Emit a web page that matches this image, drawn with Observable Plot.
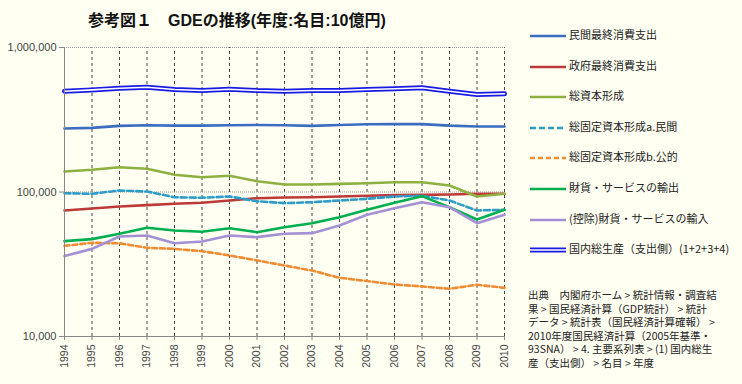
<!DOCTYPE html>
<html><head><meta charset="utf-8">
<script src="https://cdn.jsdelivr.net/npm/d3@7"></script>
<script src="https://cdn.jsdelivr.net/npm/@observablehq/plot@0.6"></script>
<style>
body{margin:0;background:#fffff2;}
#wrap{position:relative;width:742px;height:384px;overflow:hidden;background:#fffff2;font-family:"Liberation Sans","Noto Sans CJK JP",sans-serif;}
#chart{position:absolute;left:0;top:0;}
#title{position:absolute;left:88px;top:11px;font-size:16px;font-weight:bold;line-height:20px;color:#111;white-space:nowrap;font-family:"Liberation Sans","Noto Sans CJK JP",sans-serif;}
.leg{position:absolute;left:530px;font-size:11px;color:#222;white-space:nowrap;line-height:14px;font-family:"Noto Sans CJK JP","Liberation Sans",sans-serif;}
.leg svg{vertical-align:middle;margin-right:2px;}
#cap{position:absolute;left:528px;top:288px;font-size:10.5px;line-height:13.6px;color:#222;white-space:nowrap;font-family:"Noto Sans CJK JP",sans-serif;}
</style></head>
<body><div id="wrap"><div id="chart"></div><div id="title"></div><div id="cap"></div></div>
<script>
const titleText = "参考図１　GDEの推移(年度:名目:10億円)";
const years = [1994,1995,1996,1997,1998,1999,2000,2001,2002,2003,2004,2005,2006,2007,2008,2009,2010];
const yTicks = [10000, 100000, 1000000];
const seriesNames = ["民間最終消費支出","政府最終消費支出","総資本形成","総固定資本形成a.民間","総固定資本形成b.公的","財貨・サービスの輸出","(控除)財貨・サービスの輸入","国内総生産（支出側）(1+2+3+4)"];
const privateConsumption = [275000,278000,287000,290000,288000,288000,290000,291000,290000,287000,291000,294000,295000,295000,288000,284000,284000];
const governmentConsumption = [74500,76900,79400,81100,82900,84200,87300,90600,91600,92000,93100,94200,95100,95500,96100,97200,97200];
const grossCapitalFormation = [138600,142500,148500,144800,131500,126600,129400,118800,112700,112700,113900,115100,116900,116900,110900,93100,97200];
const privateFixedCapital = [98100,97200,102400,100800,92000,91200,93100,86300,83700,85000,87300,89700,93100,94200,87300,74500,75300];
const publicFixedCapital = [42400,44500,44200,41100,40400,38900,36400,33600,31000,28600,25500,24200,22900,22200,21400,22800,21700];
const exportsGS = [45700,47200,51400,56500,54200,53100,56100,52700,57000,60800,66900,75300,84200,93600,78500,64500,75300];
const importsGS = [36000,40400,49200,50000,44200,45400,50000,48700,51400,51900,58600,69500,77300,85000,78500,60800,69500];
const gdpExpenditure = [498600,509000,523000,531000,512000,504000,514600,504000,498600,504000,504000,512000,518000,526000,498600,473000,478000];
const captionLines = [
 "出典　内閣府ホーム > 統計情報・調査結",
 "果 > 国民経済計算（GDP統計） > 統計",
 "データ > 統計表（国民経済計算確報） >",
 "2010年度国民経済計算（2005年基準・",
 "93SNA） > 4. 主要系列表 > (1) 国内総生",
 "産（支出側） > 名目 > 年度"
];

const styles = [
 {color:"#3a6cbf", dash:null},
 {color:"#bd3a3a", dash:null},
 {color:"#8db040", dash:null},
 {color:"#2e9cc8", dash:"6,3"},
 {color:"#f28a30", dash:"5,3"},
 {color:"#00b050", dash:null},
 {color:"#a490d4", dash:null},
 {color:"#1a1ae6", dash:null, dbl:true}
];
const allValues = [privateConsumption,governmentConsumption,grossCapitalFormation,privateFixedCapital,publicFixedCapital,exportsGS,importsGS,gdpExpenditure];
const series = seriesNames.map((name,i)=>({name, data: years.map((yr,j)=>({year:yr, value:allValues[i][j]})), ...styles[i]}));

const lineMarks = [];
series.forEach(s=>{
  if (s.dbl) {
    lineMarks.push(Plot.line(s.data,{x:"year",y:"value",stroke:s.color,strokeWidth:5}));
    lineMarks.push(Plot.line(s.data,{x:"year",y:"value",stroke:"#ffffff",strokeWidth:1.6}));
  } else {
    lineMarks.push(Plot.line(s.data,{x:"year",y:"value",stroke:s.color,strokeWidth:2.6,strokeDasharray:s.dash}));
  }
});

const chart = Plot.plot({
  width:742, height:384,
  marginLeft:64, marginRight:238, marginTop:47, marginBottom:48,
  style:{background:"transparent", fontFamily:"Liberation Sans, Arial, sans-serif", fontSize:"10.5px", color:"#444"},
  x:{domain:[1994,2010]},
  y:{type:"log", domain:[10000,1000000]},
  marks:[
    Plot.ruleX(years.slice(1),{y1:10000,y2:1000000,stroke:"#444",strokeWidth:1,strokeDasharray:"3,3"}),
    Plot.ruleY([100000,1000000],{stroke:"#999",strokeDasharray:"1,1"}),
    ...lineMarks,
    Plot.ruleX([1994],{y1:10000,y2:1000000,stroke:"#888"}),
    Plot.ruleY([10000],{stroke:"#888"}),
    Plot.axisY({ticks:yTicks, tickFormat:d3.format(","), tickSize:5, tickPadding:3, label:null, stroke:"#888", fontSize:11}),
    Plot.axisX({ticks:years, tickFormat:"d", tickRotate:-90, tickSize:4, tickPadding:4, label:null, stroke:"#888"})
  ]
});
document.getElementById("chart").appendChild(chart);
document.getElementById("title").textContent = titleText;

const wrap = document.getElementById("wrap");
series.forEach((s,i)=>{
  const d = document.createElement("div");
  d.className = "leg";
  d.style.top = (27 + i*30.6) + "px";
  const inner = s.dbl
    ? `<line x1="0" y1="5" x2="36" y2="5" stroke="${s.color}" stroke-width="5"/><line x1="0" y1="5" x2="36" y2="5" stroke="#fff" stroke-width="1.6"/>`
    : `<line x1="0" y1="5" x2="36" y2="5" stroke="${s.color}" stroke-width="2.6" ${s.dash?`stroke-dasharray="${s.dash}"`:""}/>`;
  d.innerHTML = `<svg width="37" height="10">${inner}</svg>`;
  d.appendChild(document.createTextNode(s.name));
  wrap.appendChild(d);
});
document.getElementById("cap").innerHTML = captionLines.map(l=>`<div>${l}</div>`).join("");
</script></body></html>
